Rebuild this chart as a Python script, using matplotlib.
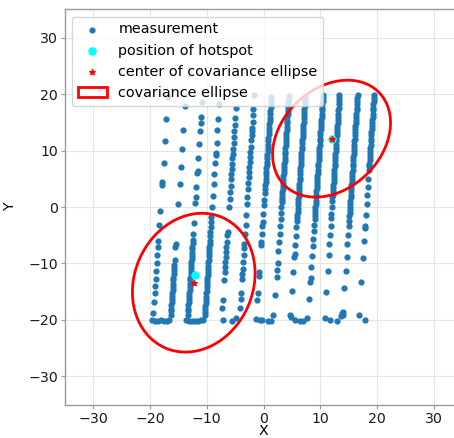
import matplotlib
matplotlib.use('Agg')
import matplotlib.pyplot as plt
from matplotlib.patches import Ellipse
import numpy as np

# Survey tracks: x where each track meets y=-20 and y=20
track_x_bottom = [-19.5, -16.4, -13.4, -10.4, -7.4, -4.3, -1.3, 1.8, 4.7, 7.8, 10.7, 13.9, 16.8]
track_x_top = [-16.8, -13.7, -10.7, -7.7, -4.7, -1.6, 1.4, 4.5, 7.4, 10.5, 13.4, 16.6, 19.5]

t1_y = [19.4, 15.5, 11.7, 7.8, 4.5, 3.9, -0.7, -3.1, -6.0, -7.1, -8.5, -10.0, -11.3,
        -12.8, -14.0, -15.2, -16.8, -18.8]
t2_y = [17.8, 13.7, 10.2, 7.1, 4.0, 0.6, -6.6, -7.1, -9.4, -10.3, -10.8, -11.4, -11.9,
        -12.5, -13.0, -13.6, -14.1, -14.7, -15.2, -15.8, -16.3, -16.9, -17.4, -18.0,
        -18.5, -19.1]
t3_y = [18.6, 15.9, 14.8, 13.4, 11.1, 8.6, 6.4, 6.1, 3.5, 1.7, 0.7, -2.9, -4.7, -5.9,
        -6.4, -7.0, -7.5, -8.1, -8.6, -9.2, -9.7, -10.3, -10.8, -11.4, -11.9, -12.5,
        -13.0, -13.6, -14.1, -14.7, -15.2, -15.8, -16.3, -16.9, -17.4, -18.0, -18.5, -19.1]
t4_y = [18.3, 15.6, 13.7, 11.4, 9.6, 9.2, 7.8, 5.9, 4.1, 2.0, 0.0, -1.8, -2.7, -3.6,
        -4.4, -5.2, -6.0, -6.5, -7.1, -7.6, -8.2, -8.7, -9.3, -9.8, -10.4, -10.9, -11.5,
        -12.0, -12.6, -13.1, -13.7, -14.2, -14.8, -15.3, -15.9, -16.4, -17.0, -17.5,
        -18.1, -18.6, -19.1]
t5_y = [17.5, 15.8, 14.6, 13.4, 12.4, 11.3, 10.3, 9.4, 8.6, 7.7, 6.8, 5.9, 5.0, 3.8,
        2.7, 1.5, 0.0, -4.4, -5.0, -6.2, -7.1, -8.0, -8.8, -9.7, -10.6, -11.5, -13.0,
        -16.5, -17.8]
t6_y = [19.9, 17.4, 16.2, 15.0, 13.9, 13.4, 12.8, 11.8, 10.7, 9.7, 8.8, 8.0, 7.1, 6.2,
        5.3, 4.2, 3.1, 1.8, 0.5, -1.5, -3.1, -4.7, -6.5, -7.2, -8.5, -9.7, -10.9, -11.9,
        -12.8, -15.3, -16.3, -17.9]
t7_y = [19.4, 18.9, 18.2, 17.7, 17.0, 16.5, 15.8, 15.3, 14.7, 14.0, 13.5, 12.9, 12.2,
        11.7, 11.0, 10.5, 9.9, 9.2, 8.7, 8.0, 7.5, 6.9, 6.2, 5.7, 5.0, 4.5, 3.9, 3.2,
        2.4, 1.2, 0.3, -1.2, -2.7, -3.4, -4.7, -6.2, -6.8, -11.5, -12.3, -15.3, -16.5]
t8_y = [19.7, 19.2, 18.6, 18.1, 17.5, 17.0, 16.4, 15.9, 15.3, 14.8, 14.2, 13.7, 13.1,
        12.6, 12.0, 11.5, 10.9, 10.4, 9.8, 9.3, 8.7, 8.2, 7.6, 7.1, 6.5, 6.0, 5.4, 4.9,
        4.3, 3.8, 3.2, 2.7, 2.1, 1.6, 1.2, 0.9, 0.0, -1.0, -2.2, -3.4, -4.7, -6.2, -7.8,
        -9.9, -11.2, -12.4, -15.5]
t9_y = [19.5, 19.0, 18.4, 17.9, 17.3, 16.8, 16.2, 15.7, 15.1, 14.6, 14.0, 13.5, 12.9,
        12.4, 11.8, 11.3, 10.7, 10.2, 9.6, 9.1, 8.5, 8.0, 7.4, 6.9, 6.3, 5.8, 5.2, 4.7,
        4.1, 3.6, 3.0, 2.5, 1.9, 1.4, 0.8, 0.3, -0.3, -0.8, -1.4, -2.0, -2.4, -3.5, -5.2,
        -6.8, -8.4, -8.8, -11.5, -14.9]
t10_y = [19.8, 19.3, 18.7, 18.2, 17.6, 17.1, 16.5, 16.0, 15.4, 14.9, 14.3, 13.8, 13.2,
         12.7, 12.1, 11.6, 11.0, 10.5, 9.9, 9.4, 8.8, 8.3, 7.7, 7.2, 6.6, 6.1, 5.5, 5.0,
         4.4, 3.9, 3.3, 2.8, 2.2, 1.7, 1.1, 0.6, 0.0, -0.5, -1.1, -1.6, -2.2, -3.2, -4.3,
         -5.6, -6.9, -8.7, -10.7, -12.5, -13.2, -16.3]
t11_y = [19.8, 19.3, 18.7, 18.2, 17.6, 17.1, 16.5, 16.0, 15.4, 14.9, 14.3, 13.8, 13.2,
         12.7, 12.1, 11.6, 11.0, 10.5, 9.9, 9.4, 8.8, 8.3, 7.7, 7.2, 6.6, 6.1, 5.5, 5.0,
         4.4, 3.9, 3.3, 2.8, 2.2, 1.7, 1.1, 0.0, -1.2, -2.0, -3.4, -4.9, -6.5, -8.5,
         -11.3, -15.0]
t12_y = [19.8, 19.3, 18.7, 18.2, 17.6, 17.1, 16.5, 16.0, 15.4, 14.9, 14.3, 13.8, 13.2,
         12.7, 12.1, 11.6, 11.0, 10.5, 9.9, 9.4, 8.8, 8.3, 7.7, 7.2, 6.6, 6.1, 5.5, 5.0,
         4.4, 3.9, 3.3, 2.8, 2.2, 1.7, 1.1, 0.6, 0.0, -0.5, -1.1, -1.6, -2.4, -3.4, -5.0,
         -6.6, -8.8, -11.4, -14.4, -18.6, -19.1]
t13_y = [19.8, 19.3, 18.7, 18.2, 17.6, 17.1, 16.5, 16.0, 15.4, 14.9, 14.3, 13.8, 13.2,
         12.7, 12.1, 11.6, 11.0, 10.5, 9.9, 9.4, 8.8, 8.3, 7.7, 7.2, 6.6, 5.0, 3.5, 2.1,
         0.5, -1.5, -3.4, -3.7, -6.1, -9.0, -13.2, -19.1]
tracks_y = [t1_y, t2_y, t3_y, t4_y, t5_y, t6_y, t7_y, t8_y, t9_y, t10_y, t11_y, t12_y, t13_y]

# Turn points at the bottom edge
turn_x = [-19.6, -19.1, -18.6, -18.1, -17.6, -17.1, -16.6,
          -13.6, -13.1, -12.6, -12.1, -11.6, -11.1, -10.7,
          -7.1, -5.6, -4.8,
          -1.4, -0.65, -0.2, 0.8, 1.4, 1.7,
          4.6, 4.8, 5.6, 6.5, 7.0, 7.6,
          10.8, 11.7, 12.9, 13.6, 13.9,
          17.9]
turn_y = [-20.0, -20.1, -20.1, -20.0, -20.1, -20.1, -20.0,
          -20.0, -20.1, -20.1, -20.1, -20.1, -20.0, -20.0,
          -20.0, -20.1, -19.7,
          -19.8, -20.0, -20.0, -20.1, -20.1, -19.1,
          -19.2, -19.5, -20.0, -20.1, -20.1, -19.7,
          -19.7, -20.0, -20.1, -19.3, -18.8,
          -20.0]

hotspot_x = [-12.0, 12.0]
hotspot_y = [-12.0, 12.0]
center_x = [-12.3, 12.0]
center_y = [-13.4, 12.1]
ellipse_w = [25.2, 23.4]
ellipse_h = [20.9, 17.7]
ellipse_angle = [66.7, 44.5]

# Build measurement coordinates
meas_x = []
meas_y = []
for xb, xt, ys in zip(track_x_bottom, track_x_top, tracks_y):
    ys = np.array(ys)
    meas_x.extend(np.interp(ys, [-20, 20], [xb, xt]))
    meas_y.extend(ys)
meas_x.extend(turn_x)
meas_y.extend(turn_y)

font_size = 10.4
matplotlib.rc('font', family='DejaVu Sans', size=font_size)

fig = plt.figure(figsize=(4.54, 4.38), dpi=100)
ax = fig.add_axes([65 / 454, (438 - 404.7) / 438, 397 / 454, 395.4 / 438])

ax.grid(True, color='#e6e6e6', lw=0.8, zorder=0)
ax.set_axisbelow(True)

h_meas = ax.scatter(meas_x, meas_y, s=12, color='#1f77b4', zorder=2,
                    label='measurement')
h_hot = ax.scatter(hotspot_x, hotspot_y, s=26, color='cyan', zorder=3,
                   label='position of hotspot')
h_cen = ax.scatter(center_x, center_y, s=16, marker='*', color='red', zorder=4,
                   label='center of covariance ellipse')
h_ell = None
for cx, cy, w, h, a in zip(center_x, center_y, ellipse_w, ellipse_h, ellipse_angle):
    e = Ellipse((cx, cy), w, h, angle=a, fill=False, edgecolor='red', lw=2,
                zorder=5, label='covariance ellipse')
    ax.add_patch(e)
    if h_ell is None:
        h_ell = e

ax.set_xlim(-35, 35)
ax.set_ylim(-35, 35)
ticks = [-30, -20, -10, 0, 10, 20, 30]
ax.set_xticks(ticks)
ax.set_yticks(ticks)
ax.tick_params(length=3, color='0.6', labelcolor='0.1', pad=2, labelsize=10.2)
for s in ax.spines.values():
    s.set_color('0.6')
    s.set_linewidth(1.0)

ax.set_xlabel('X', labelpad=-1, fontsize=10.2)
ax.set_ylabel('Y', labelpad=8, fontsize=10.2)

leg = ax.legend(handles=[h_meas, h_hot, h_cen, h_ell], loc='upper left',
                framealpha=0.8, fontsize=font_size)
leg.set_zorder(10)

fig.savefig('out.png', dpi=100)
